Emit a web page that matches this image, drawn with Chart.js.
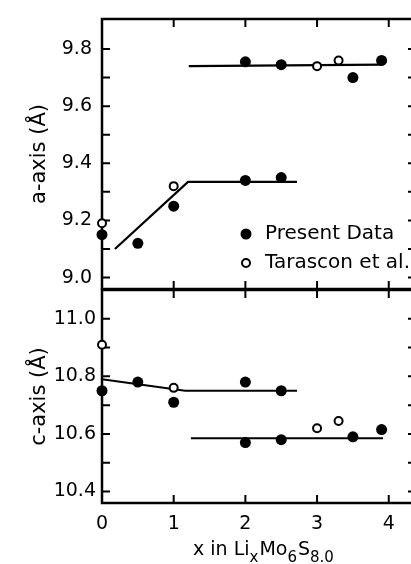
<!DOCTYPE html>
<html>
<head>
<meta charset="utf-8">
<script src="https://cdn.jsdelivr.net/npm/chart.js@4.4.0/dist/chart.umd.min.js"></script>
<style>
  html, body { margin: 0; padding: 0; background: #fff; overflow: hidden; width: 411px; height: 564px; }
  canvas { position: absolute; left: 0; }
  #aChart { top: 0; }
  #cChart { top: 280px; }
</style>
</head>
<body>
<canvas id="aChart" width="416" height="292"></canvas>
<canvas id="cChart" width="416" height="284"></canvas>
<script>
// a-axis panel
const aPresentX = [0, 0.5, 1, 2, 2.5, 2, 2.5, 3.5, 3.9];
const aPresentY = [9.15, 9.12, 9.25, 9.34, 9.35, 9.755, 9.745, 9.70, 9.76];
const aTarasconX = [0, 1, 3, 3.3];
const aTarasconY = [9.19, 9.32, 9.74, 9.76];
const aFitLowX = [0.18, 1.2, 2.72];
const aFitLowY = [9.10, 9.335, 9.335];
const aFitHighX = [1.21, 3.92];
const aFitHighY = [9.74, 9.745];
const aTicks = [9.0, 9.1, 9.2, 9.3, 9.4, 9.5, 9.6, 9.7, 9.8];

// c-axis panel
const cPresentX = [0, 0.5, 1, 2, 2.5, 2, 2.5, 3.5, 3.9];
const cPresentY = [10.75, 10.78, 10.71, 10.78, 10.75, 10.57, 10.58, 10.59, 10.615];
const cTarasconX = [0, 1, 3, 3.3];
const cTarasconY = [10.91, 10.76, 10.62, 10.645];
const cFitHighX = [0, 1.16, 2.72];
const cFitHighY = [10.79, 10.75, 10.75];
const cFitLowX = [1.24, 3.92];
const cFitLowY = [10.585, 10.585];
const cTicks = [10.4, 10.5, 10.6, 10.7, 10.8, 10.9, 11.0];

const xTicks = [0, 1, 2, 3, 4];

const FONT = "'DejaVu Sans', sans-serif";
const pts = (xs, ys) => xs.map((x, i) => ({ x: x, y: ys[i] }));

// border frame plus inward tick marks on every side
const frame = {
  id: 'frame',
  beforeDatasetsDraw(chart) {
    const { ctx, chartArea: a, scales: { x, y } } = chart;
    ctx.save();
    ctx.strokeStyle = '#000';
    ctx.lineWidth = 2.5;
    ctx.strokeRect(a.left, a.top, a.right - a.left, a.bottom - a.top);
    ctx.lineWidth = 2;
    ctx.beginPath();
    y.ticks.forEach(t => {
      const py = y.getPixelForValue(t.value);
      ctx.moveTo(a.left, py); ctx.lineTo(a.left + 8, py);
      ctx.moveTo(a.right, py); ctx.lineTo(a.right - 8, py);
    });
    x.ticks.forEach(t => {
      if (t.value === 0) return;
      const px = x.getPixelForValue(t.value);
      ctx.moveTo(px, a.top); ctx.lineTo(px, a.top + 8);
      ctx.moveTo(px, a.bottom); ctx.lineTo(px, a.bottom - 8);
    });
    ctx.stroke();
    ctx.restore();
  }
};

// legend inside the top panel
const legendBox = {
  id: 'legendBox',
  afterDraw(chart) {
    const ctx = chart.ctx;
    ctx.save();
    ctx.fillStyle = '#000';
    ctx.strokeStyle = '#000';
    ctx.beginPath(); ctx.arc(246, 234, 5.5, 0, Math.PI * 2); ctx.fill();
    ctx.lineWidth = 2;
    ctx.beginPath(); ctx.arc(246, 263, 4, 0, Math.PI * 2); ctx.stroke();
    ctx.font = '20px ' + FONT;
    ctx.textBaseline = 'middle';
    ctx.fillText('Present Data', 265, 234);
    ctx.fillText('Tarascon et al.', 265, 263);
    ctx.restore();
  }
};

// x title with subscripts
const xTitle = {
  id: 'xTitle',
  afterDraw(chart) {
    const ctx = chart.ctx;
    const parts = [['x in Li', 0], ['x', 1], ['Mo', 0], ['6', 1], ['S', 0], ['8.0', 1]];
    let px = 193;
    ctx.save();
    ctx.fillStyle = '#000';
    ctx.textBaseline = 'alphabetic';
    parts.forEach(([txt, sub]) => {
      ctx.font = (sub ? '15px ' : '19px ') + FONT;
      ctx.fillText(txt, px, sub ? 282 : 275);
      px += ctx.measureText(txt).width + (sub ? 1 : 0);
    });
    ctx.restore();
  }
};

function noPad(s) {
  s.paddingTop = 0; s.paddingBottom = 0; s.paddingLeft = 0; s.paddingRight = 0;
}

function scatterSets(presX, presY, taraX, taraY, fits) {
  const sets = [
    { label: 'Present Data', data: pts(presX, presY), backgroundColor: '#000', borderColor: '#000',
      pointRadius: 5.5, borderWidth: 0, clip: false },
    { label: 'Tarascon et al.', data: pts(taraX, taraY), backgroundColor: '#fff', borderColor: '#000',
      pointRadius: 4, borderWidth: 2, clip: false }
  ];
  fits.forEach(f => sets.push({ label: 'fit', data: pts(f[0], f[1]), showLine: true, borderColor: '#000',
    borderWidth: 2.2, pointRadius: 0, clip: false }));
  return sets;
}

function makeOptions(yMin, yMax, yTicks, yTitle, tickPad, pad, showX) {
  return {
    responsive: false,
    animation: false,
    events: [],
    layout: { padding: pad, autoPadding: false },
    plugins: { legend: { display: false }, tooltip: { enabled: false } },
    scales: {
      x: {
        type: 'linear', min: 0, max: 4.38,
        afterBuildTicks: s => { s.ticks = xTicks.map(v => ({ value: v })); },
        grid: { display: false, drawTicks: false },
        border: { display: false },
        ticks: { display: showX, color: '#000', font: { family: FONT, size: 19 }, padding: 10,
          maxRotation: 0, callback: v => String(v) },
        afterFit: s => { s.height = showX ? 61 : 0; noPad(s); }
      },
      y: {
        type: 'linear', min: yMin, max: yMax,
        afterBuildTicks: s => { s.ticks = yTicks.map(v => ({ value: v })); },
        grid: { display: false, drawTicks: false },
        border: { display: false },
        ticks: { color: '#000', font: { family: FONT, size: 19 }, padding: tickPad,
          callback: v => Math.round(v * 10) % 2 === 0 ? v.toFixed(1) : '' },
        title: { display: true, text: yTitle, color: '#000', font: { family: FONT, size: 21 },
          padding: { top: 27, bottom: 0 } },
        afterFit: s => { s.width = 102; noPad(s); }
      }
    }
  };
}

new Chart(document.getElementById('aChart'), {
  type: 'scatter',
  data: { datasets: scatterSets(aPresentX, aPresentY, aTarasconX, aTarasconY,
    [[aFitLowX, aFitLowY], [aFitHighX, aFitHighY]]) },
  options: makeOptions(8.96, 9.905, aTicks, 'a-axis (Å)', 10, { top: 19, right: 0, bottom: 3, left: 0 }, false),
  plugins: [frame, legendBox]
});

new Chart(document.getElementById('cChart'), {
  type: 'scatter',
  data: { datasets: scatterSets(cPresentX, cPresentY, cTarasconX, cTarasconY,
    [[cFitHighX, cFitHighY], [cFitLowX, cFitLowY]]) },
  options: makeOptions(10.36, 11.1, cTicks, 'c-axis (Å)', 6, { top: 10, right: 0, bottom: 0, left: 0 }, true),
  plugins: [frame, xTitle]
});
</script>
</body>
</html>
